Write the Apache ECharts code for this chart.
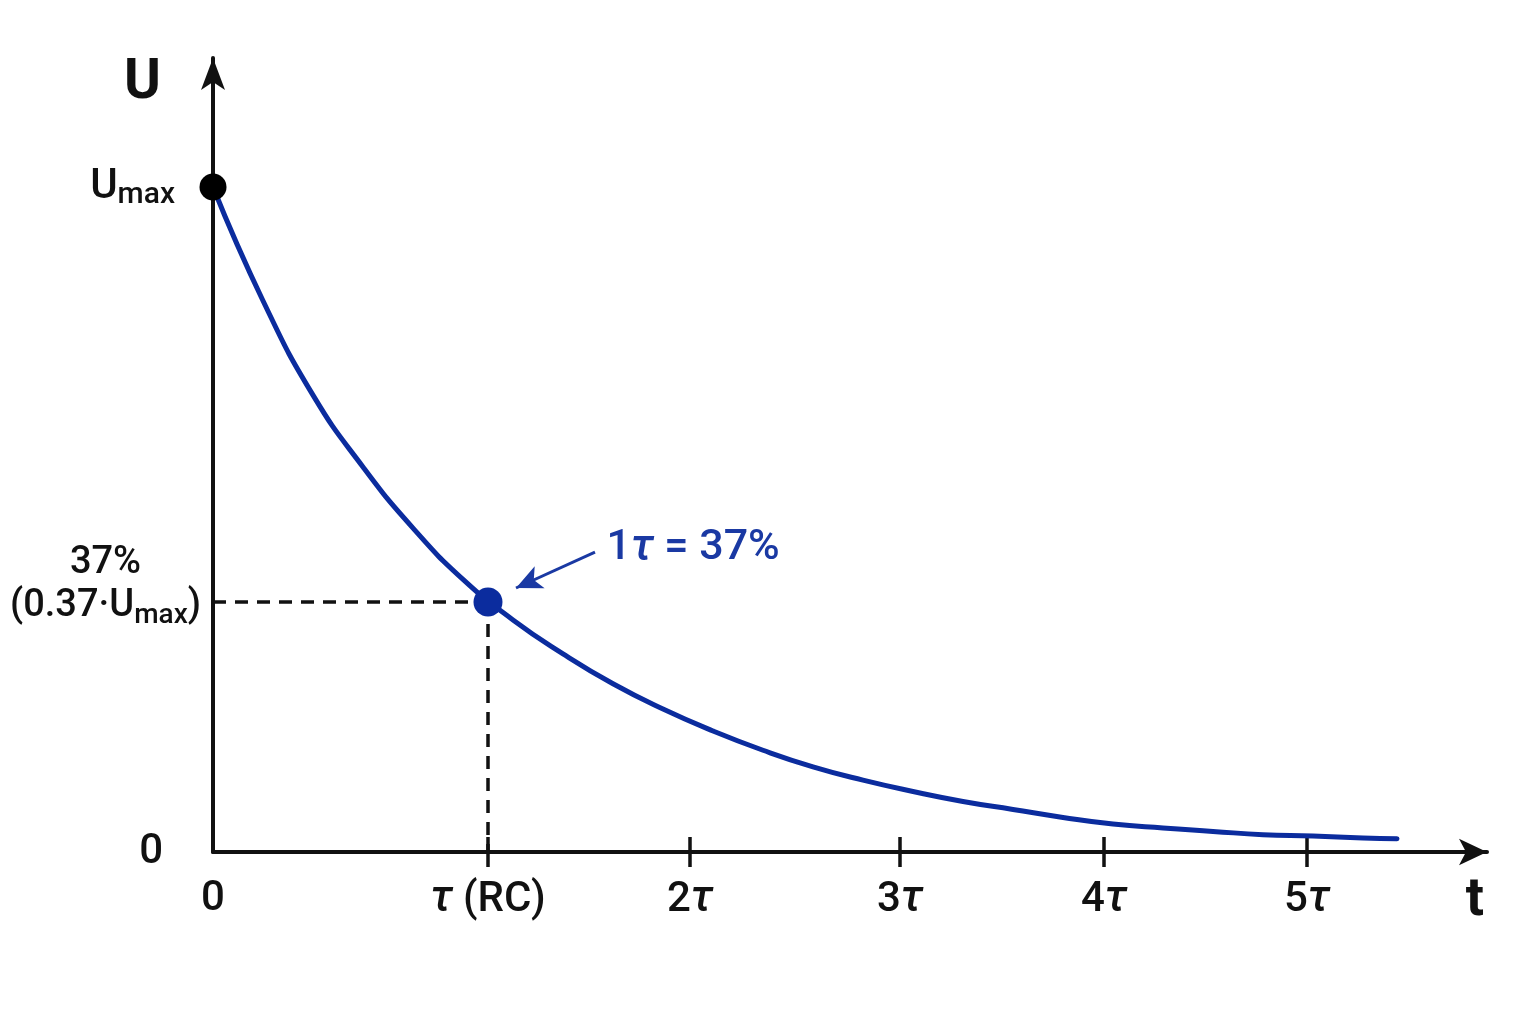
<!DOCTYPE html>
<html>
<head>
<meta charset="utf-8">
<title>RC discharge</title>
<script src="https://cdn.jsdelivr.net/npm/echarts@6/dist/echarts.min.js"></script>
<style>
html, body { margin: 0; padding: 0; background: #fff; }
#main { width: 1536px; height: 1024px; }
</style>
</head>
<body>
<div id="main"></div>
<script>
// curve (t in plot units from the origin, U as a share of Umax)
var curveT = [0, 0.5, 1.0, 1.5, 2.0, 2.5, 3.0, 3.5, 4.0, 4.5, 5.0, 5.5, 6.0, 6.5, 7.0, 7.5, 8.0, 8.5, 9.0, 9.5, 10.0, 10.5, 11.0, 11.5, 11.84];
var curveU = [1.000, 0.829, 0.687, 0.579, 0.487, 0.410, 0.349, 0.298, 0.253, 0.215, 0.182, 0.153, 0.128, 0.108, 0.091, 0.076,
  0.064, 0.052, 0.042, 0.036, 0.031, 0.026, 0.024, 0.021, 0.020];

// x ticks as they sit in the picture
var tickT = [0, 2.75, 4.77, 6.87, 8.91, 10.94];
var tickLabels = ['0', '{g|τ} (RC)', '2{g|τ}', '3{g|τ}', '4{g|τ}', '5{g|τ}'];

var uMax = 1;
var tauT = 2.75;
var tauU = 0.376;
var tauText = '1{g|τ} = 37%';
var arrowFrom = [3.82, 0.451];
var arrowTo = [3.03, 0.397];

var xMax = 12.74;
var yMax = 1.194;

var FONT = 'Roboto, "Liberation Sans", sans-serif';
var INK = '#111';
var BLUE = '#0b2c9e';
var TEXT_BLUE = '#1a39a3';

var chart = echarts.init(document.getElementById('main'));

var curveData = [];
for (var i = 0; i < curveT.length; i++) curveData.push([curveT[i], curveU[i]]);

var option = {
  backgroundColor: '#fff',
  animation: false,
  grid: { left: 213, right: 49, top: 58, bottom: 172 },
  xAxis: [{
    type: 'value',
    min: 0,
    max: xMax,
    name: 't',
    nameLocation: 'end',
    nameGap: -12,
    nameTextStyle: { fontFamily: FONT, fontSize: 54, fontWeight: 'bold', color: INK,
      align: 'center', verticalAlign: 'top', padding: [22, 0, 0, 0] },
    axisLine: { show: true, symbol: ['none', 'arrow'], symbolSize: [20, 28],
      lineStyle: { color: INK, width: 4 } },
    axisTick: { show: true, length: 15, inside: false, customValues: tickT.slice(1),
      lineStyle: { color: INK, width: 3.5 } },
    axisLabel: {
      customValues: tickT,
      margin: 26,
      fontFamily: FONT, fontSize: 42, fontWeight: 500, color: INK,
      formatter: function (v) {
        var k = tickT.indexOf(v);
        return k >= 0 ? tickLabels[k] : '';
      },
      rich: {
        g: { fontFamily: FONT, fontSize: 44, fontWeight: 500, fontStyle: 'italic', color: INK }
      }
    },
    splitLine: { show: false }
  }, {
    // second copy only to draw the upper half of each tick
    type: 'value',
    min: 0,
    max: xMax,
    position: 'bottom',
    axisLine: { show: false },
    axisTick: { show: true, length: 15, inside: true, customValues: tickT.slice(1),
      lineStyle: { color: INK, width: 3.5 } },
    axisLabel: { show: false },
    splitLine: { show: false }
  }],
  yAxis: {
    type: 'value',
    min: 0,
    max: yMax,
    name: 'U',
    nameLocation: 'end',
    nameGap: 2,
    nameTextStyle: { fontFamily: FONT, fontSize: 56, fontWeight: 'bold', color: INK,
      align: 'right', verticalAlign: 'top', padding: [0, 52, 0, 0] },
    axisLine: { show: true, symbol: ['none', 'arrow'], symbolSize: [18, 32],
      lineStyle: { color: INK, width: 4 } },
    axisTick: { show: false },
    axisLabel: {
      customValues: [0, tauU, uMax],
      margin: 12,
      color: INK,
      fontFamily: FONT,
      formatter: function (v) {
        if (v === 0) return '{z|0}';
        if (v === uMax) return '{u|U}{m|max}';
        return '{p|37%}\n{q|(0.37·U}{m2|max}{q|)}\n{gap| }';
      },
      rich: {
        z: { fontFamily: FONT, fontSize: 42, fontWeight: 500, color: INK, padding: [0, 38, 0, 0] },
        u: { fontFamily: FONT, fontSize: 42, fontWeight: 500, lineHeight: 46, color: INK, verticalAlign: 'middle' },
        m: { fontFamily: FONT, fontSize: 30, fontWeight: 500, lineHeight: 20, color: INK, verticalAlign: 'bottom', padding: [0, 26, 0, 0] },
        p: { fontFamily: FONT, fontSize: 38, fontWeight: 500, lineHeight: 40, color: INK, align: 'center' },
        q: { fontFamily: FONT, fontSize: 38, fontWeight: 500, lineHeight: 46, color: INK, verticalAlign: 'middle' },
        m2: { fontFamily: FONT, fontSize: 28, fontWeight: 500, lineHeight: 20, color: INK, verticalAlign: 'bottom' },
        gap: { fontSize: 10, lineHeight: 30 }
      }
    },
    splitLine: { show: false }
  },
  series: [{
    name: 'U(t)',
    type: 'line',
    data: curveData,
    smooth: 0.5,
    showSymbol: false,
    silent: true,
    lineStyle: { color: BLUE, width: 5, cap: 'round' },
    z: 3,
    markLine: {
      silent: true,
      symbol: ['none', 'none'],
      label: { show: false },
      lineStyle: { color: INK, width: 3.5, type: [13, 9] },
      data: [
        [{ coord: [0, tauU] }, { coord: [tauT, tauU] }],
        [{ coord: [tauT, tauU] }, { coord: [tauT, 0] }]
      ]
    }
  }, {
    name: 'Umax',
    type: 'scatter',
    data: [[0, uMax]],
    symbolSize: 27,
    silent: true,
    itemStyle: { color: '#000', opacity: 1 },
    z: 5
  }, {
    name: 'tau',
    type: 'scatter',
    data: [[tauT, tauU]],
    symbolSize: 29,
    silent: true,
    itemStyle: { color: BLUE, opacity: 1 },
    z: 5,
    label: {
      show: true,
      position: [133, -39],
      align: 'left',
      verticalAlign: 'middle',
      formatter: tauText,
      fontFamily: FONT,
      fontSize: 43,
      fontWeight: 500,
      color: TEXT_BLUE,
      rich: {
        g: { fontFamily: FONT, fontSize: 45, fontWeight: 500, fontStyle: 'italic', color: TEXT_BLUE }
      }
    },
    markLine: {
      silent: true,
      symbol: ['none', 'arrow'],
      symbolSize: [18, 26],
      label: { show: false },
      lineStyle: { color: TEXT_BLUE, width: 3, type: 'solid' },
      data: [[{ coord: arrowFrom }, { coord: arrowTo }]]
    }
  }]
};

chart.setOption(option);
</script>
</body>
</html>
